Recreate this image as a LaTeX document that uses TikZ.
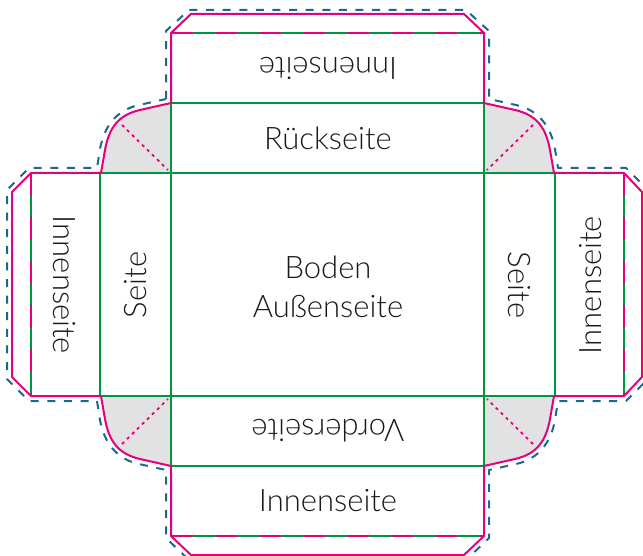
\documentclass[tikz,border=0pt]{standalone}
\usepackage{fontspec}
\setmainfont{Lato Light}
\definecolor{pinkc}{RGB}{230,0,126}
\definecolor{greenc}{RGB}{0,150,64}
\definecolor{bluec}{RGB}{25,105,140}
\definecolor{grayc}{RGB}{226,226,226}
\tikzset{
  fold/.style={greenc, line width=2pt},
  cutline/.style={pinkc, line width=2pt, line join=miter},
  foldpink/.style={pinkc, line width=2pt, dash pattern=on 22pt off 22pt},
  bleed/.style={bluec, line width=2pt, dash pattern=on 8pt off 8.6pt, line join=round},
  diag/.style={pinkc, line width=1.8pt, dash pattern=on 3pt off 4pt},
  lbl/.style={font=\fontsize{31}{39}\selectfont, text=black!90, inner sep=0pt, align=center}
}
\begin{document}
\begin{tikzpicture}[x=1pt,y=-1pt]
\useasboundingbox (0,0) rectangle (643,556);
\clip (0,0) rectangle (643,556);
% grey corner flaps
\fill[grayc] (171,103) -- (140,110) .. controls (118,115) and (109,128) .. (105,150) -- (101,173) -- (171,173) -- cycle;
\fill[grayc] (484,103) -- (515,110) .. controls (537,115) and (546,128) .. (550,150) -- (554,173) -- (484,173) -- cycle;
\fill[grayc] (484,466) -- (515,459) .. controls (537,454) and (546,441) .. (550,419) -- (554,396) -- (484,396) -- cycle;
\fill[grayc] (171,466) -- (140,459) .. controls (118,454) and (109,441) .. (105,419) -- (101,396) -- (171,396) -- cycle;
% green fold lines
\draw[fold] (171,103) -- (484,103);
\draw[fold] (100,173) -- (555,173);
\draw[fold] (100,396) -- (555,396);
\draw[fold] (171,466) -- (484,466);
\draw[fold] (100,173) -- (100,396);
\draw[fold] (171,103) -- (171,466);
\draw[fold] (484,103) -- (484,466);
\draw[fold] (555,173) -- (555,396);
% tuck-in folds (green + pink)
\draw[fold] (171,33) -- (484,33);
\draw[foldpink] (171,33) -- (484,33);
\draw[fold] (171,536) -- (484,536);
\draw[foldpink] (171,536) -- (484,536);
\draw[fold] (31,173) -- (31,396);
\draw[foldpink] (31,173) -- (31,396);
\draw[fold] (624,173) -- (624,396);
\draw[foldpink] (624,173) -- (624,396);
% dotted diagonals
\draw[diag] (122,125) -- (168,170);
\draw[diag] (533,125) -- (487,170);
\draw[diag] (533,444) -- (487,399);
\draw[diag] (122,444) -- (168,399);
% cut outline
\draw[cutline] (171,103) -- (171,33) -- (191,14) -- (464,14) -- (484,33) -- (484,103)
  -- (515,110) .. controls (537,115) and (546,128) .. (550,150) -- (554,173)
  -- (624,173) -- (642,192) -- (642,377) -- (624,396) -- (554,396)
  -- (550,419) .. controls (546,441) and (537,454) .. (515,459) -- (484,466)
  -- (484,536) -- (464,555) -- (191,555) -- (171,536) -- (171,466)
  -- (140,459) .. controls (118,454) and (109,441) .. (105,419) -- (101,396)
  -- (31,396) -- (12,377) -- (12,192) -- (31,173) -- (101,173)
  -- (105,150) .. controls (109,128) and (118,115) .. (140,110) -- cycle;
% bleed outline
\draw[bleed] (166,99) -- (166,31) -- (189,10) -- (466,10) -- (489,31) -- (489,99)
  -- (516,105) .. controls (539,110) and (551,127) .. (555,149) -- (558,168)
  -- (626,168) -- (648,190) -- (648,379) -- (626,401) -- (558,401)
  -- (555,420) .. controls (551,442) and (539,459) .. (516,464) -- (489,470)
  -- (489,538) -- (466,560) -- (189,560) -- (166,538) -- (166,470)
  -- (139,464) .. controls (116,459) and (104,442) .. (100,420) -- (97,401)
  -- (29,401) -- (7,379) -- (7,190) -- (29,168) -- (97,168)
  -- (100,149) .. controls (104,127) and (116,110) .. (139,105) -- cycle;
% labels
\node[lbl, rotate=180] (topin) at (328,68) {Innenseite};
\node[lbl] (back) at (328,138) {Rückseite};
\node[lbl] (bottom) at (328,287) {Boden\\Außenseite};
\node[lbl, rotate=180] (front) at (328,431) {Vorderseite};
\node[lbl] (botin) at (328,501) {Innenseite};
\node[lbl, rotate=90] (lside) at (136,285) {Seite};
\node[lbl, rotate=-90] (rside) at (519,285) {Seite};
\node[lbl, rotate=-90] (lin) at (64,285) {Innenseite};
\node[lbl, rotate=90] (rin) at (591,285) {Innenseite};
\end{tikzpicture}
\end{document}
